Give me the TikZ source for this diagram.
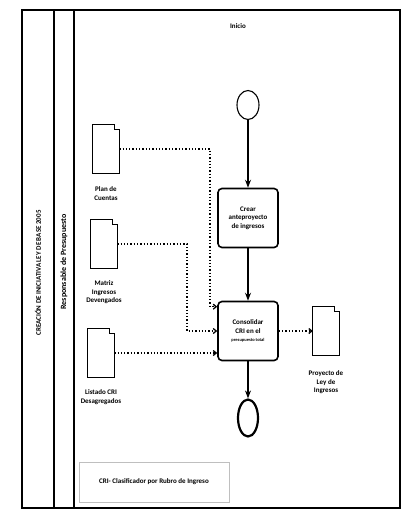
\documentclass[tikz,border=0pt]{standalone}
\usepackage{fontspec}
\setsansfont{Carlito}
\usetikzlibrary{arrows.meta,positioning,calc,shapes.geometric}

\begin{document}
\begin{tikzpicture}[x=1pt,y=-1pt,font=\sffamily\bfseries\fontsize{7}{8.5}\selectfont,>=Stealth,
 lane/.style={line width=1.3pt},
 task/.style={draw,line width=1.6pt,rounded corners=4pt,align=center,minimum width=60pt,minimum height=59pt,inner sep=2pt},
 event/.style={draw,ellipse,inner sep=0pt},
 doc/.style={minimum width=26pt,minimum height=49pt,inner sep=0pt},
 doclabel/.style={align=center,inner sep=1pt},
 flow/.style={->,line width=1.1pt},
 assoc/.style={-{Straight Barb[length=3pt,width=5pt]},dotted,line width=1.3pt}]

\useasboundingbox (0,0) rectangle (406,517);

% pool and lanes
\draw[lane] (22,10) rectangle (400,508);
\draw[lane] (54,10) -- (54,508);
\draw[lane] (74,10) -- (74,508);
\node[rotate=90] (pool) at (38,273) {CREACIÓN DE INICIATIVA LEY DE BASE 2005};
\node[rotate=90,font=\sffamily\bfseries\fontsize{8}{9}\selectfont] (resp) at (64,262) {Responsable de Presupuesto};
\node (head) at (238,26) {Inicio};

% events and tasks
\node[event,line width=1.1pt,minimum width=22pt,minimum height=29pt] (start) at (248,105) {};
\node[task] (crear) at (248,218) {Crear\\anteproyecto\\de ingresos};
\node[task] (consol) at (248,331) {Consolidar\\CRI en el\\{\fontsize{4.5}{5.5}\selectfont presupuesto total}};
\node[event,line width=2.2pt,minimum width=20pt,minimum height=37pt] (end) at (248,418) {};

\draw[flow] (start) -- (crear);
\draw[flow] (crear) -- (consol);
\draw[flow] (consol) -- (end);

% documents
\node[doc] (plan) at (106,149) {};
\node[doclabel,below=12pt of plan] (planl) {Plan de\\Cuentas};
\node[doc] (matriz) at (104,244) {};
\node[doclabel,below=11pt of matriz] (matrizl) {Matriz\\Ingresos\\Devengados};
\node[doc] (listado) at (101,353) {};
\node[doclabel,below=11pt of listado] (listadol) {Listado CRI\\Desagregados};
\node[doc] (proy) at (326,331) {};
\node[doclabel,below=14pt of proy] (proyl) {Proyecto de\\Ley de\\Ingresos};

\foreach \n in {plan,matriz,listado,proy}{
 \draw[line width=1pt] (\n.south west) -- (\n.north west) -- ($(\n.north east)+(-5,0)$) -- ($(\n.north east)+(-5,5)$)
  -- ($(\n.north east)+(0,5)$) -- (\n.south east) -- cycle;}

% associations
\coordinate (c1) at (210,149);
\coordinate (c2) at (187,244);
\draw[assoc] (plan.east) -- (c1) |- ($(consol.north west)+(0,6)$);
\draw[assoc] (matriz.east) -- (c2) |- (consol.west);
\draw[assoc] (listado.east) -- (listado.east -| consol.west);
\draw[assoc] (consol.east) -- (proy.west);

% annotation
\node[draw=gray!50,line width=.5pt,minimum width=150pt,minimum height=40pt] (cri) at (154,482) {CRI- Clasificador por Rubro de Ingreso};

\end{tikzpicture}
\end{document}
